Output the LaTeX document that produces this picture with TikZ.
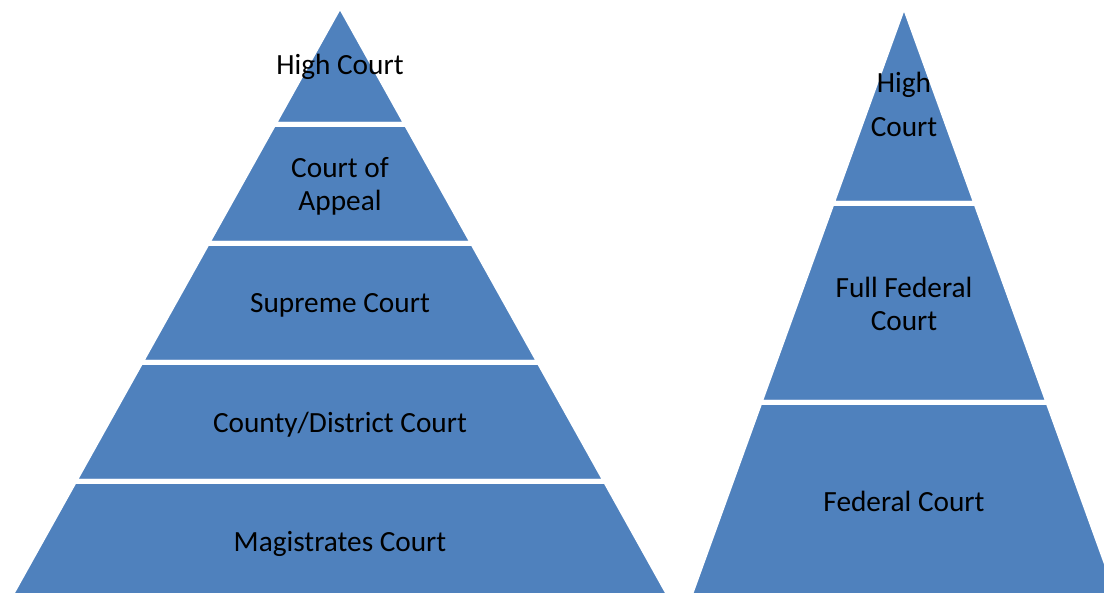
\documentclass[tikz,border=0pt]{standalone}
\usepackage{fontspec}
\setmainfont{Carlito}
\definecolor{courtblue}{HTML}{4F81BD}
\tikzset{
  layer/.style={fill=courtblue,draw=white,line width=5pt,line join=miter},
  courtname/.style={inner sep=0pt,align=center,text=black,font=\fontsize{29.3}{33}\selectfont}
}
\begin{document}
\begin{tikzpicture}[x=1pt,y=-1pt]
  \useasboundingbox (0,0) rectangle (1104,593);
  \clip (0,0) rectangle (1104,593);
  % state hierarchy
  \draw[layer] (340,5.5)--(406.4,124.5)--(273.6,124.5)--cycle;
  \draw[layer] (273.6,124.5)--(406.4,124.5)--(472.8,243.5)--(207.2,243.5)--cycle;
  \draw[layer] (207.2,243.5)--(472.8,243.5)--(539.2,362.5)--(140.8,362.5)--cycle;
  \draw[layer] (140.8,362.5)--(539.2,362.5)--(605.6,481.5)--(74.4,481.5)--cycle;
  \draw[layer] (74.4,481.5)--(605.6,481.5)--(672,600.5)--(8,600.5)--cycle;
  \node[courtname] (hc) at (340,66.5) {High Court};
  \node[courtname] (coa) at (340,186) {Court of\\Appeal};
  \node[courtname] (sc) at (340,305.5) {Supreme Court};
  \node[courtname] (cdc) at (340,424.5) {County/District Court};
  \node[courtname] (mc) at (340,543.5) {Magistrates Court};
  % federal hierarchy
  \draw[layer] (904,4.5)--(976,203.5)--(832,203.5)--cycle;
  \draw[layer] (832,203.5)--(976,203.5)--(1048.1,402.5)--(759.9,402.5)--cycle;
  \draw[layer] (759.9,402.5)--(1048.1,402.5)--(1120.1,601.5)--(687.9,601.5)--cycle;
  \node[courtname] (fhc) at (904,104) {High\\[11pt]Court};
  \node[courtname] (ffc) at (904,303.5) {Full Federal\\Court};
  \node[courtname] (fc) at (904,501) {Federal Court};
\end{tikzpicture}
\end{document}
